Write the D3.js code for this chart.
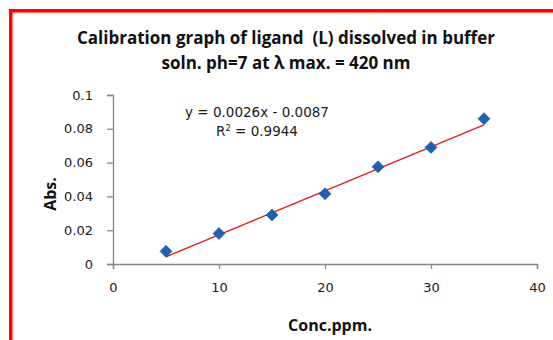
<!DOCTYPE html>
<html>
<head>
<meta charset="utf-8">
<script src="https://cdn.jsdelivr.net/npm/d3@7"></script>
<style>
  html, body { margin: 0; padding: 0; background: #fff; }
  svg { display: block; }
  text { white-space: pre; }
</style>
</head>
<body>
<svg id="chart" width="553" height="340"></svg>
<script>
// Calibration data: concentration (ppm) vs absorbance
const conc = [5, 10, 15, 20, 25, 30, 35];
const absorbance = [0.0075, 0.018, 0.029, 0.0415, 0.0575, 0.069, 0.086];

// Linear trendline coefficients, as printed on the chart
const slope = 0.0026;
const intercept = -0.0087;
const rSquared = 0.9944;

const xTicks = [0, 10, 20, 30, 40];
const yTicks = [0, 0.02, 0.04, 0.06, 0.08, 0.1];
const yTickLabels = ["0", "0.02", "0.04", "0.06", "0.08", "0.1"];

const titleLines = [
  "Calibration graph of ligand  (L) dissolved in buffer",
  "soln. ph=7 at \u03bb max. = 420 nm"
];
const xTitle = "Conc.ppm.";
const yTitle = "Abs.";

const svg = d3.select("#chart");

// Frame around the chart area
svg.append("line").attr("x1", 13).attr("y1", 13).attr("x2", 553).attr("y2", 13)
  .attr("stroke", "#d0d0d0").attr("stroke-width", 1.2);
svg.append("line").attr("x1", 13).attr("y1", 13).attr("x2", 13).attr("y2", 340)
  .attr("stroke", "#d0d0d0").attr("stroke-width", 1.2);
svg.append("path")
  .attr("d", "M10.7,340 V10.7 H553")
  .attr("fill", "none").attr("stroke", "#ff0000").attr("stroke-width", 3.4);

const x = d3.scaleLinear().domain([0, 40]).range([113, 537]);
const y = d3.scaleLinear().domain([0, 0.1]).range([264, 95]);

const axisColor = "#868686";
const tickFont = "DejaVu Sans, Verdana, sans-serif";

// X axis
const gx = svg.append("g").attr("transform", `translate(0,${y(0)})`)
  .call(d3.axisBottom(x).tickValues(xTicks).tickFormat(d3.format("d")).tickSize(5).tickPadding(14));
// Y axis
const gy = svg.append("g").attr("transform", `translate(${x(0)},0)`)
  .call(d3.axisLeft(y).tickValues(yTicks).tickFormat((d, i) => yTickLabels[i]).tickSize(6).tickPadding(14));

[gx, gy].forEach(g => {
  g.select(".domain").attr("stroke", axisColor).attr("stroke-width", 1.3);
  g.selectAll(".tick line").attr("stroke", axisColor).attr("stroke-width", 1.3);
  g.selectAll(".tick text").attr("fill", "#1a1a1a").style("font-family", tickFont).style("font-size", "13px");
});

// Trendline across the measured range
const xr = d3.extent(conc);
svg.append("line")
  .attr("x1", x(xr[0])).attr("y1", y(slope * xr[0] + intercept))
  .attr("x2", x(xr[1])).attr("y2", y(slope * xr[1] + intercept))
  .attr("stroke", "#e3201b").attr("stroke-width", 1.4);

// Diamond markers
const r = 6;
svg.append("g").selectAll("path")
  .data(conc.map((c, i) => [c, absorbance[i]]))
  .join("path")
  .attr("d", d => {
    const cx = x(d[0]), cy = y(d[1]);
    return `M${cx},${cy - r}L${cx + r},${cy}L${cx},${cy + r}L${cx - r},${cy}Z`;
  })
  .attr("fill", "#1f62b2")
  .attr("stroke", "#1a4f90")
  .attr("stroke-width", 0.6);

// Trendline equation label
const eq = svg.append("g").style("font-family", tickFont).style("font-size", "13.5px").attr("fill", "#1a1a1a");
eq.append("text").attr("x", 257).attr("y", 117).attr("text-anchor", "middle")
  .text(`y = ${slope}x - ${Math.abs(intercept)}`);
const r2 = eq.append("text").attr("x", 257).attr("y", 136).attr("text-anchor", "middle");
r2.append("tspan").text("R");
r2.append("tspan").attr("dy", -5).style("font-size", "8.5px").text("2");
r2.append("tspan").attr("dy", 5).text(` = ${rSquared}`);

// Titles
const boldFont = "'Open Sans', Lato, sans-serif";
svg.append("g").selectAll("text").data(titleLines).join("text")
  .attr("x", 286).attr("y", (d, i) => 44 + i * 25)
  .attr("text-anchor", "middle")
  .style("font-family", boldFont).style("font-weight", "bold").style("font-size", "17px")
  .attr("fill", "#111")
  .text(d => d);

svg.append("text").attr("x", 330).attr("y", 331).attr("text-anchor", "middle")
  .style("font-family", boldFont).style("font-weight", "bold").style("font-size", "16px")
  .attr("fill", "#111").text(xTitle);

svg.append("text").attr("transform", "translate(56,194) rotate(-90)").attr("text-anchor", "middle")
  .style("font-family", boldFont).style("font-weight", "bold").style("font-size", "16px")
  .attr("fill", "#111").text(yTitle);
</script>
</body>
</html>
